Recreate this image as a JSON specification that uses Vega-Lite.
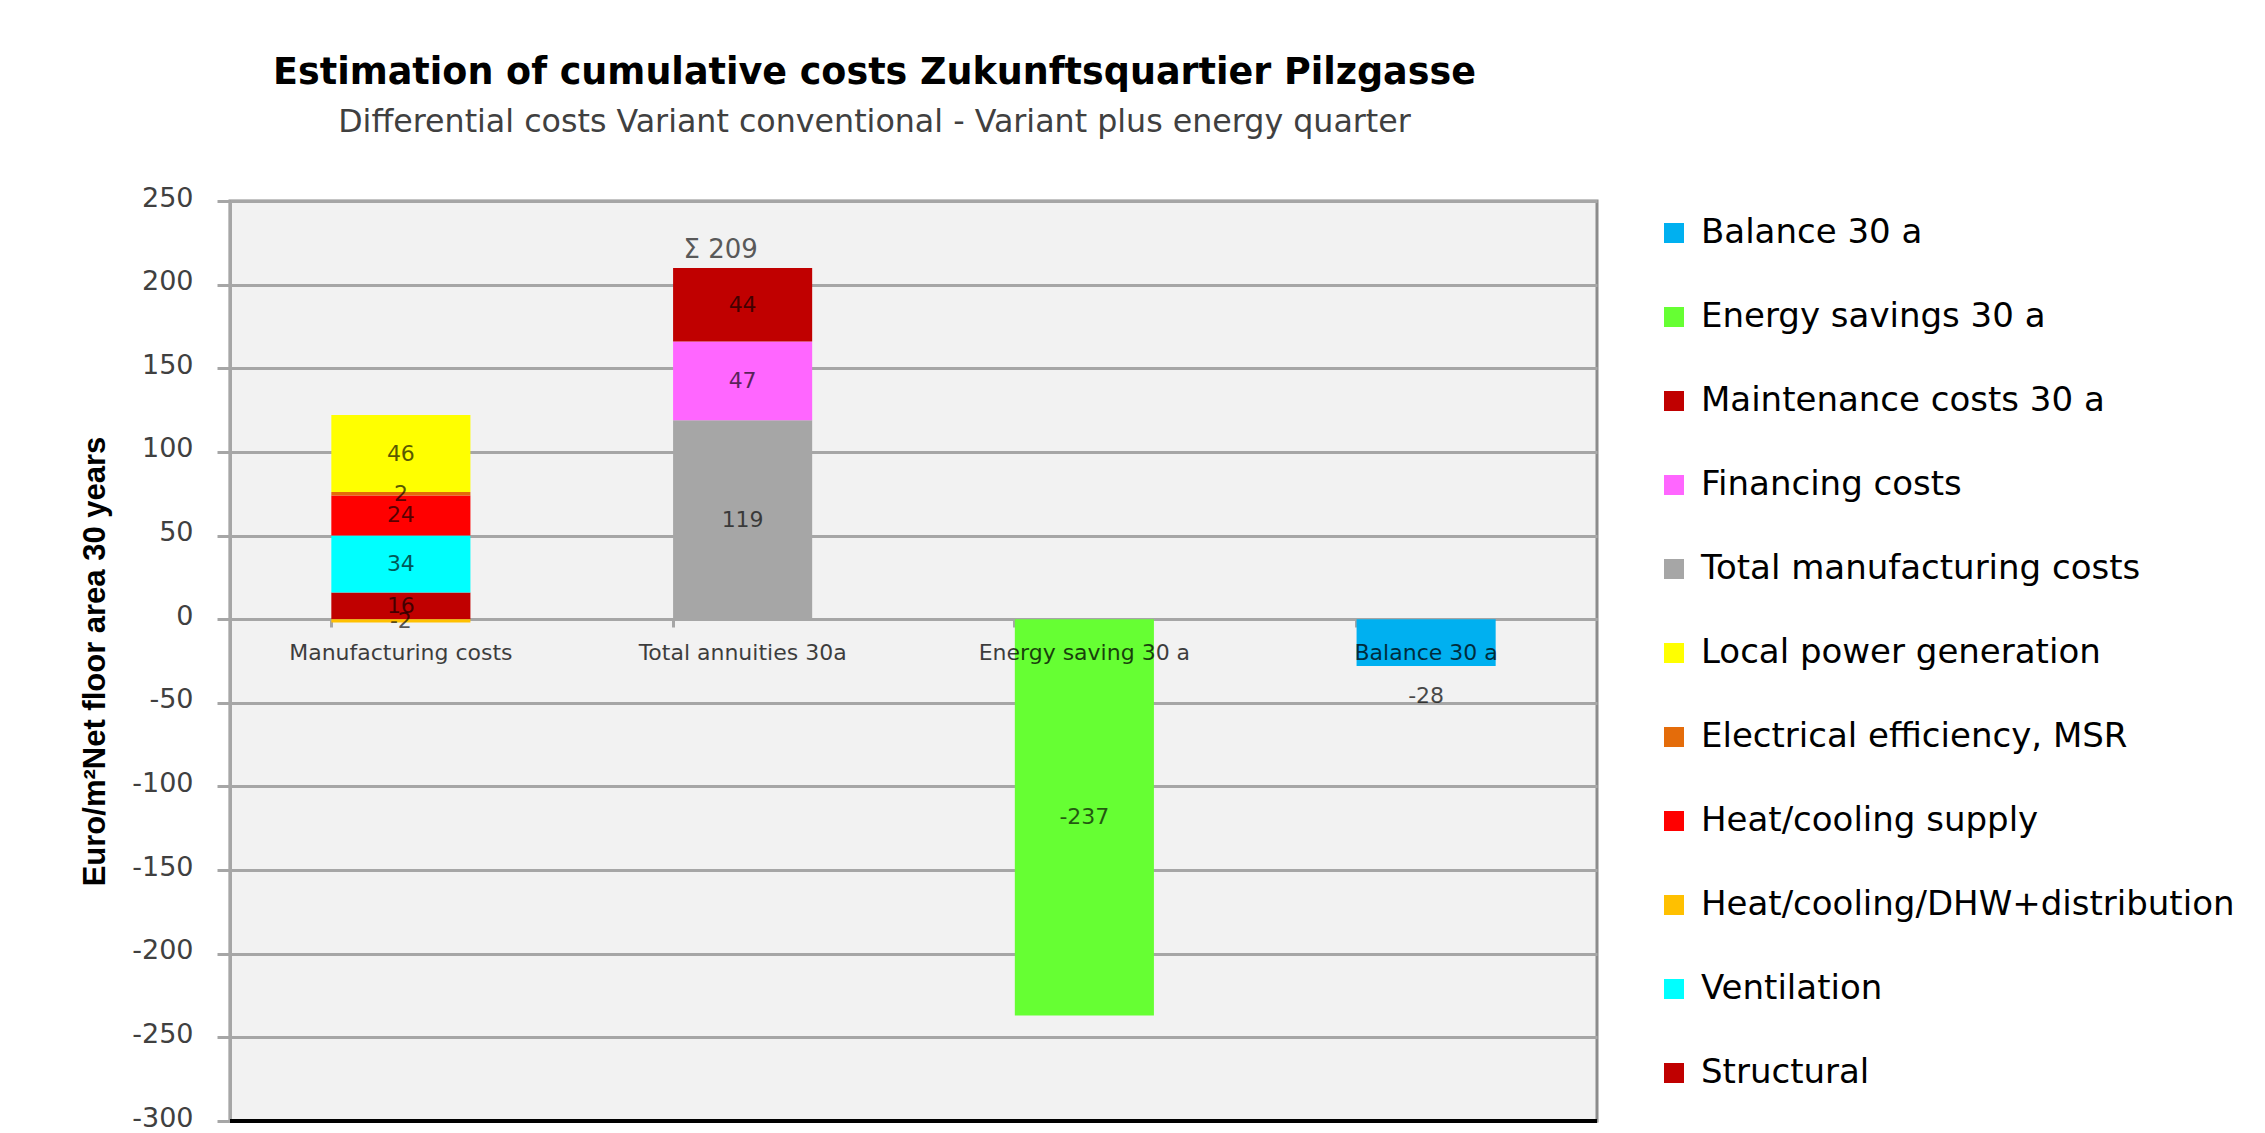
{
  "$schema": "https://vega.github.io/schema/vega-lite/v6.json",
  "width": 1367,
  "height": 920,
  "autosize": {"type": "none"},
  "padding": {"left": 230, "top": 201, "right": 668, "bottom": 12},
  "background": "white",
  "title": {
    "text": "Estimation of cumulative costs Zukunftsquartier Pilzgasse",
    "subtitle": "Differential costs Variant conventional - Variant plus energy quarter",
    "font": "DejaVu Sans",
    "fontWeight": "bold",
    "fontSize": 36.5,
    "color": "black",
    "subtitleFont": "DejaVu Sans",
    "subtitleFontSize": 31.7,
    "subtitleColor": "#404040",
    "subtitlePadding": 16,
    "anchor": "middle",
    "dx": -39,
    "offset": 45
  },
  "config": {
    "view": {"fill": "#F2F2F2", "stroke": "#8C8C8C", "strokeWidth": 3}
  },
  "datasets": {
    "bars": [
      {"category": "Manufacturing costs", "series": "Structural", "value": 16, "k": 1},
      {"category": "Manufacturing costs", "series": "Ventilation", "value": 34, "k": 2},
      {"category": "Manufacturing costs", "series": "Heat/cooling/DHW+distribution", "value": -2, "k": 3},
      {"category": "Manufacturing costs", "series": "Heat/cooling supply", "value": 24, "k": 4},
      {"category": "Manufacturing costs", "series": "Electrical efficiency, MSR", "value": 2, "k": 5},
      {"category": "Manufacturing costs", "series": "Local power generation", "value": 46, "k": 6},
      {"category": "Total annuities 30a", "series": "Total manufacturing costs", "value": 119, "k": 7},
      {"category": "Total annuities 30a", "series": " Financing costs", "value": 47, "k": 8},
      {"category": "Total annuities 30a", "series": "Maintenance costs 30 a", "value": 44, "k": 9},
      {"category": "Energy saving 30 a", "series": "Energy savings 30 a", "value": -237, "k": 10},
      {"category": "Balance 30 a", "series": "Balance 30 a", "value": -28, "k": 11}
    ],
    "totals": [
      {"category": "Total annuities 30a", "value": 209, "label": "Σ 209"}
    ],
    "cats": [
      {"category": "Manufacturing costs"},
      {"category": "Total annuities 30a"},
      {"category": "Energy saving 30 a"},
      {"category": "Balance 30 a"}
    ]
  },
  "layer": [
    {
      "data": {"name": "bars"},
      "mark": {"type": "bar"},
      "encoding": {
        "x": {
          "field": "category",
          "type": "nominal",
          "sort": ["Manufacturing costs", "Total annuities 30a", "Energy saving 30 a", "Balance 30 a"],
          "scale": {"paddingInner": 0.593, "paddingOuter": 0.2965},
          "axis": {
            "orient": "bottom",
            "offset": -502,
            "labels": false,
            "title": null,
            "ticks": true,
            "tickSize": 8,
            "tickColor": "#A6A6A6",
            "tickWidth": 3,
            "bandPosition": 0,
            "domain": true,
            "domainColor": "#A6A6A6",
            "domainWidth": 3,
            "grid": false
          }
        },
        "y": {
          "field": "value",
          "type": "quantitative",
          "stack": "zero",
          "scale": {"domain": [-300, 250], "nice": false, "zero": false},
          "axis": {
            "title": "Euro/m²Net floor area 30 years",
            "titleFont": "Liberation Sans",
            "titleFontWeight": "bold",
            "titleFontSize": 31,
            "titleColor": "black",
            "titlePadding": 20,
            "values": [-300, -250, -200, -150, -100, -50, 0, 50, 100, 150, 200, 250],
            "labelExpr": "'' + datum.value",
            "labelFont": "DejaVu Sans",
            "labelFontSize": 27,
            "labelOffset": -3,
            "labelColor": "#404040",
            "labelPadding": 24,
            "tickSize": 13,
            "tickColor": "#A6A6A6",
            "tickWidth": 3,
            "domainColor": "#A6A6A6",
            "domainWidth": 3,
            "grid": true,
            "gridColor": "#A6A6A6",
            "gridWidth": 3
          }
        },
        "color": {
          "field": "series",
          "type": "nominal",
          "scale": {
            "domain": ["Balance 30 a", "Energy savings 30 a", "Maintenance costs 30 a", " Financing costs", "Total manufacturing costs", "Local power generation", "Electrical efficiency, MSR", "Heat/cooling supply", "Heat/cooling/DHW+distribution", "Ventilation", "Structural"],
            "range": ["#00B0F0", "#66FF33", "#C00000", "#FF66FF", "#A6A6A6", "#FFFF00", "#E46C0A", "#FF0000", "#FFC000", "#00FFFF", "#C00000"]
          },
          "legend": {
            "orient": "none",
            "legendX": 1427,
            "legendY": 15,
            "title": null,
            "symbolType": "square",
            "symbolSize": 400,
            "symbolStrokeWidth": 0,
            "labelFont": "DejaVu Sans",
            "labelFontSize": 34,
            "labelColor": "black",
            "labelOffset": 10,
            "rowPadding": 50,
            "padding": 0,
            "labelLimit": 700
          }
        },
        "order": {"field": "k", "type": "quantitative"}
      }
    },
    {
      "data": {"values": [{}]},
      "mark": {"type": "rule", "color": "black", "strokeWidth": 4},
      "encoding": {"y": {"datum": -300}}
    },
    {
      "data": {"name": "bars"},
      "transform": [{"filter": "datum.series !== 'Balance 30 a'"}],
      "mark": {"type": "text", "font": "DejaVu Sans", "fontSize": 22, "color": "black", "opacity": 0.65},
      "encoding": {
        "x": {"field": "category", "type": "nominal", "sort": ["Manufacturing costs", "Total annuities 30a", "Energy saving 30 a", "Balance 30 a"]},
        "y": {"field": "value", "type": "quantitative", "stack": "zero", "bandPosition": 0.5},
        "order": {"field": "k", "type": "quantitative"},
        "text": {"field": "value", "type": "nominal"}
      }
    },
    {
      "data": {"name": "bars"},
      "transform": [{"filter": "datum.series === 'Balance 30 a'"}],
      "mark": {"type": "text", "font": "DejaVu Sans", "fontSize": 22, "color": "black", "opacity": 0.7, "dy": 30},
      "encoding": {
        "x": {"field": "category", "type": "nominal", "sort": ["Manufacturing costs", "Total annuities 30a", "Energy saving 30 a", "Balance 30 a"]},
        "y": {"field": "value", "type": "quantitative"},
        "text": {"field": "value", "type": "nominal"}
      }
    },
    {
      "data": {"name": "totals"},
      "mark": {"type": "text", "font": "DejaVu Sans", "fontSize": 26, "color": "#595959", "dy": -20, "dx": -22},
      "encoding": {
        "x": {"field": "category", "type": "nominal", "sort": ["Manufacturing costs", "Total annuities 30a", "Energy saving 30 a", "Balance 30 a"]},
        "y": {"field": "value", "type": "quantitative"},
        "text": {"field": "label", "type": "nominal"}
      }
    },
    {
      "data": {"name": "cats"},
      "mark": {"type": "text", "font": "DejaVu Sans", "fontSize": 22, "color": "black", "opacity": 0.75, "dy": 34},
      "encoding": {
        "x": {"field": "category", "type": "nominal", "sort": ["Manufacturing costs", "Total annuities 30a", "Energy saving 30 a", "Balance 30 a"]},
        "y": {"datum": 0},
        "text": {"field": "category", "type": "nominal"}
      }
    }
  ]
}
